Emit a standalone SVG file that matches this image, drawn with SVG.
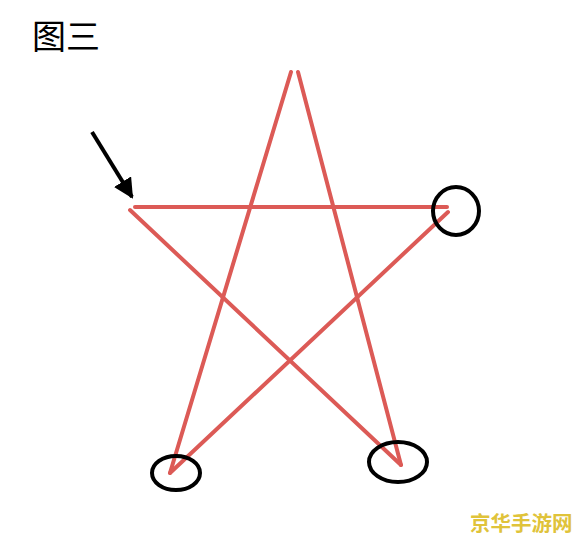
<svg xmlns="http://www.w3.org/2000/svg" width="579" height="537" viewBox="0 0 579 537">
<style>
.star{stroke:#dc5a56;stroke-width:4;stroke-linecap:round;fill:none}
.ring{stroke:#000;stroke-width:4;fill:none}
</style>
<defs>
<marker id="ah" viewBox="0 0 10 10" refX="9" refY="5" markerWidth="5" markerHeight="5" orient="auto" markerUnits="strokeWidth">
<path d="M0,0 L10,5 L0,10 z" fill="#000"/>
</marker>
</defs>
<rect width="579" height="537" fill="#fff"/>
<text x="32" y="49" font-family="Noto Sans CJK SC, sans-serif" font-size="34" fill="#000">图三</text>
<g id="connectors">
<line class="star" x1="291" y1="72" x2="170" y2="473"/>
<line class="star" x1="298" y1="72" x2="401" y2="465"/>
<line class="star" x1="135" y1="207" x2="447" y2="207"/>
<line class="star" x1="130" y1="210" x2="401" y2="465"/>
<line class="star" x1="448" y1="212" x2="170" y2="473"/>
<line x1="92" y1="132" x2="132" y2="197" stroke="#000" stroke-width="4" marker-end="url(#ah)"/>
</g>
<g id="circle-right"><ellipse class="ring" cx="456" cy="211" rx="23" ry="24"/></g>
<g id="circle-bottom-left"><ellipse class="ring" cx="176" cy="473" rx="24" ry="17"/></g>
<g id="circle-bottom-right"><ellipse class="ring" cx="398" cy="462" rx="29" ry="20"/></g>
<text x="470" y="531" font-family="Noto Sans CJK SC, sans-serif" font-size="20.5" font-weight="bold" fill="#e0c33a">京华手游网</text>
</svg>
